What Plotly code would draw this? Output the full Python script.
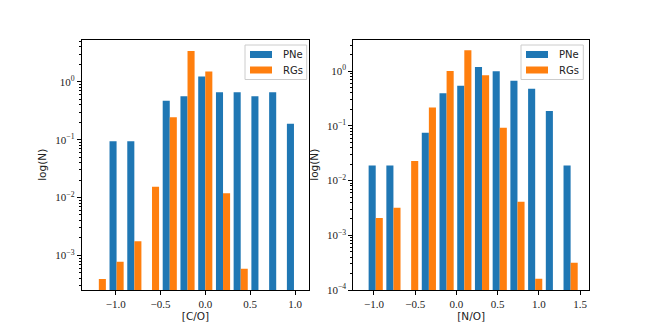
import plotly.graph_objs as go

# bin centres
co_bins = [-1.188, -0.990, -0.792, -0.595, -0.397, -0.199, -0.001, 0.197, 0.394, 0.592, 0.790, 0.988]
no_bins = [-0.979, -0.764, -0.549, -0.334, -0.119, 0.096, 0.311, 0.526, 0.741, 0.956, 1.171, 1.386]

# normalised counts ("log(N)")
co_pne = [None, 0.094, 0.094, None, 0.47, 0.56, 1.23, 0.66, 0.66, 0.56, 0.66, 0.189]
co_rgs = [3.9e-4, 7.8e-4, 1.75e-3, 0.0153, 0.245, 3.4, 1.5, 0.0118, 5.9e-4, None, None, None]
no_pne = [0.0188, 0.0188, None, 0.075, 0.395, 0.54, 1.2, 1.0, 0.67, 0.48, 0.188, 0.0188]
no_rgs = [2.07e-3, 3.2e-3, 0.0229, 0.216, 1.01, 2.42, 0.84, 0.093, 4.1e-3, 1.6e-4, None, 3.15e-4]

co_ticks = [-1.0, -0.5, 0.0, 0.5, 1.0]
no_ticks = [-1.0, -0.5, 0.0, 0.5, 1.0, 1.5]

names = ['PNe', 'RGs']
BLUE = '#1f77b4'
ORANGE = '#ff7f0e'
COLORS = [BLUE, ORANGE]
SERIF = 'Liberation Serif, DejaVu Serif, serif'
SANS = 'DejaVu Sans, sans-serif'

# the page body keeps its default 8px margin, so the figure is 8px smaller
W, H, OFF = 646, 319, 8


def px_x(x):
    return (x - OFF) / W


def px_y(y):
    return 1 - (y - OFF) / H


def fmt(v):
    return ('%.1f' % v).replace('-', '\u2212')


def log_ticks(exps):
    vals = [10.0 ** e for e in exps]
    text = ['10<sup>%s</sup>' % str(e).replace('-', '\u2212') for e in exps]
    minor = [m * 10.0 ** e for e in range(min(exps) - 1, max(exps) + 1) for m in range(2, 10)]
    return vals, text, minor


def y_axis(exps, rng, anchor):
    vals, text, minor = log_ticks(exps)
    return dict(type='log', range=rng, anchor=anchor, domain=[px_y(290), px_y(39.5)], automargin=False,
                tickvals=vals, ticktext=text, ticks='outside', ticklen=4, tickwidth=0.8,
                tickcolor='black', tickfont=dict(family=SERIF, size=11, color='#222'),
                minor=dict(tickvals=minor, ticks='outside', ticklen=2, tickwidth=0.6, tickcolor='black'),
                showline=True, linecolor='black', linewidth=1, mirror=True, showgrid=False,
                zeroline=False,
                title=dict(text='log(N)', standoff=6, font=dict(family=SANS, size=10.5, color='#222')))


def x_axis(ticks, rng, domain, anchor, label):
    return dict(range=rng, domain=domain, anchor=anchor, automargin=False, tickvals=ticks,
                ticktext=[fmt(t) for t in ticks], ticks='outside', ticklen=4, tickwidth=0.8,
                tickcolor='black', tickfont=dict(family=SERIF, size=11, color='#222'),
                showline=True, linecolor='black', linewidth=1, mirror=True, showgrid=False,
                zeroline=False,
                title=dict(text=label, standoff=3, font=dict(family=SANS, size=10.5, color='#222')))


def legend_box(x0, x1, y0, y1):
    # matplotlib-like legend: light frame, wide colour patches, label text
    shapes = [dict(type='rect', xref='paper', yref='paper', x0=px_x(x0), x1=px_x(x1),
                   y0=px_y(y1), y1=px_y(y0), fillcolor='rgba(255,255,255,0.8)',
                   line=dict(color='#cccccc', width=1))]
    notes = []
    for i, (name, col) in enumerate(zip(names, COLORS)):
        yc = y0 + 9.5 + 15.5 * i
        shapes.append(dict(type='rect', xref='paper', yref='paper', x0=px_x(x0 + 5), x1=px_x(x0 + 27),
                           y0=px_y(yc + 3.5), y1=px_y(yc - 3.5), fillcolor=col, line=dict(width=0)))
        notes.append(dict(xref='paper', yref='paper', x=px_x(x0 + 36), y=px_y(yc), text=name,
                          xanchor='left', yanchor='middle', showarrow=False,
                          font=dict(family=SANS, size=10, color='#222')))
    return shapes, notes


traces = [
    go.Bar(x=co_bins, y=co_pne, name='PNe', marker=dict(color=BLUE, line=dict(width=0)),
           xaxis='x', yaxis='y', showlegend=False),
    go.Bar(x=co_bins, y=co_rgs, name='RGs', marker=dict(color=ORANGE, line=dict(width=0)),
           xaxis='x', yaxis='y', showlegend=False),
    go.Bar(x=no_bins, y=no_pne, name='PNe', marker=dict(color=BLUE, line=dict(width=0)),
           xaxis='x2', yaxis='y2', showlegend=False),
    go.Bar(x=no_bins, y=no_rgs, name='RGs', marker=dict(color=ORANGE, line=dict(width=0)),
           xaxis='x2', yaxis='y2', showlegend=False),
]

s1, a1 = legend_box(245, 306.7, 45, 79.5)
s2, a2 = legend_box(521, 583.3, 45, 79.5)

layout = go.Layout(
    width=W, height=H, margin=dict(l=0, r=0, t=0, b=0, autoexpand=False),
    paper_bgcolor='white', plot_bgcolor='white',
    barmode='group', bargap=0.2, bargroupgap=0,
    xaxis=x_axis(co_ticks, [-1.379, 1.159], [px_x(81.7), px_x(309.3)], 'y', '[C/O]'),
    yaxis=y_axis([-3, -2, -1, 0], [-3.598, 0.731], 'x'),
    xaxis2=x_axis(no_ticks, [-1.251, 1.609], [px_x(353.3), px_x(589)], 'y2', '[N/O]'),
    yaxis2=y_axis([-4, -3, -2, -1, 0], [-4.0, 0.58], 'x2'),
    shapes=s1 + s2, annotations=a1 + a2,
)

fig = go.Figure(data=traces, layout=layout)
fig.write_html("out.html")
